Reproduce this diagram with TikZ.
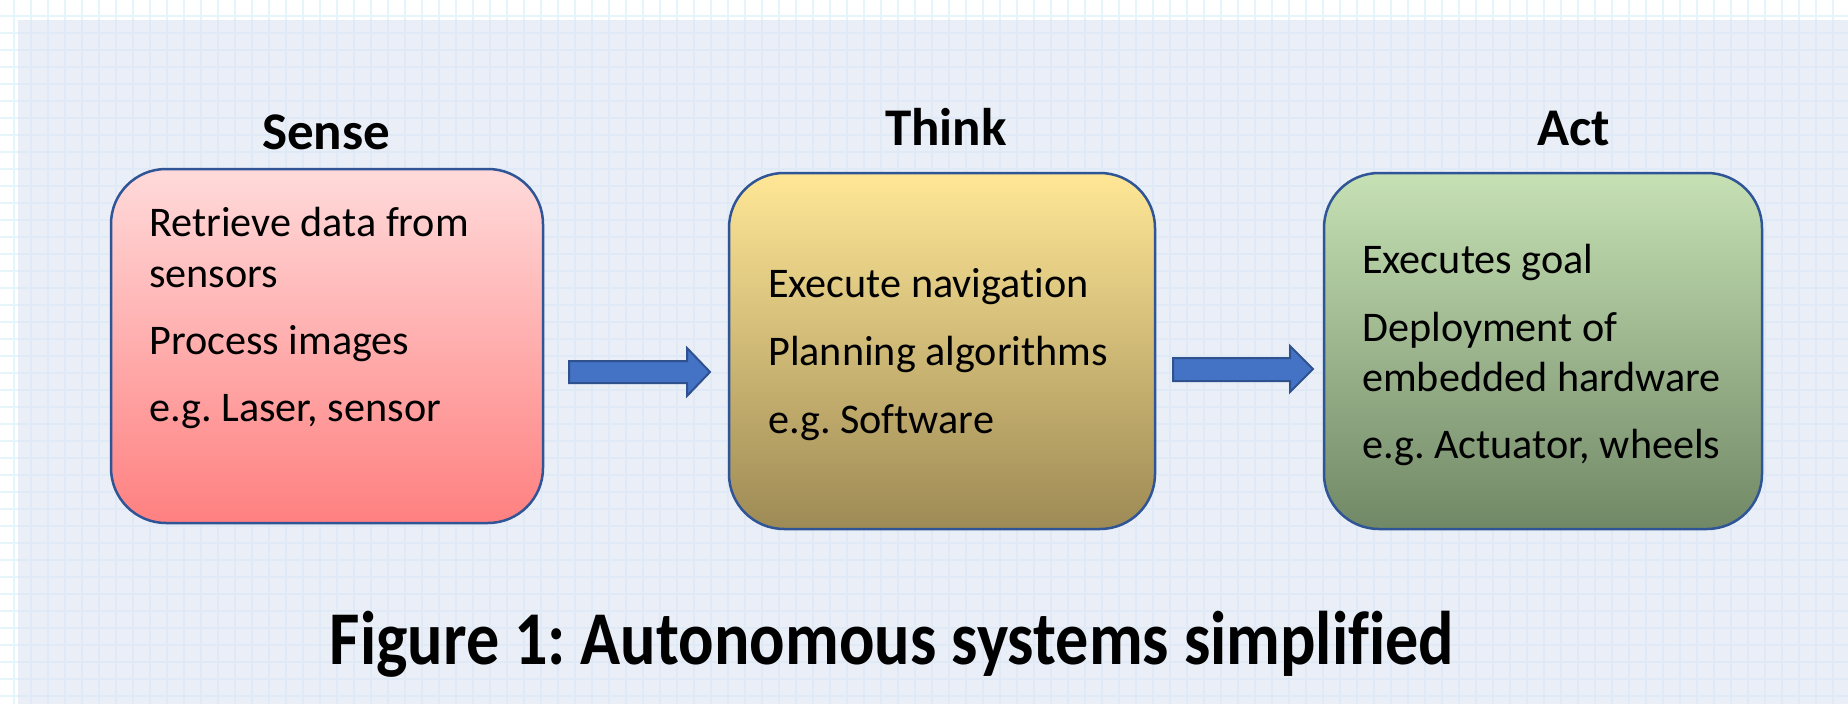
\documentclass[tikz,border=0pt]{standalone}
\usepackage{fontspec}
\usepackage{graphicx}
\setmainfont[Ligatures={NoCommon,NoContextual}]{Carlito}
\frenchspacing
\definecolor{outergrid}{HTML}{E4F6FC}
\definecolor{panelfill}{HTML}{E9EEF7}
\definecolor{panelgrid}{HTML}{E0E9F6}
\definecolor{boxborder}{HTML}{2F5597}
\definecolor{arrowfill}{HTML}{4472C4}
\definecolor{arrowborder}{HTML}{2F528F}
\definecolor{senseTop}{HTML}{FFDADA}
\definecolor{senseBot}{HTML}{FF8080}
\definecolor{thinkTop}{HTML}{FFE796}
\definecolor{thinkBot}{HTML}{9E8A55}
\definecolor{actTop}{HTML}{C6E1B4}
\definecolor{actBot}{HTML}{718866}
\tikzset{
  stagebox/.style={draw=boxborder, line width=2.5pt, rounded corners=55pt, inner sep=0pt},
  bodytext/.style={anchor=base west, inner sep=0pt, font=\fontsize{42.2}{50}\selectfont},
  titletext/.style={anchor=base, inner sep=0pt, font=\bfseries\fontsize{53}{64}\selectfont},
  blockarrow/.style={fill=arrowfill, draw=arrowborder, line width=2pt, line join=miter},
}
\begin{document}
\begin{tikzpicture}[x=1pt,y=-1pt]
\useasboundingbox (0,0) rectangle (1848,704);
\fill[white] (0,0) rectangle (1848,704);
\foreach \i in {0,...,108} \draw[outergrid, line width=2pt] (14+17*\i,0) -- (14+17*\i,704);
\foreach \j in {0,...,41} \draw[outergrid, line width=2pt] (0,16+17*\j) -- (1848,16+17*\j);
\fill[panelfill] (18,20) rectangle (1848,704);
\begin{scope}
\clip (18,20) rectangle (1848,704);
\foreach \i in {0,...,108} \draw[panelgrid, line width=2pt] (14+17*\i,0) -- (14+17*\i,704);
\foreach \j in {0,...,41} \draw[panelgrid, line width=2pt] (0,16+17*\j) -- (1848,16+17*\j);
\end{scope}

% boxes
\node[stagebox, top color=senseTop, bottom color=senseBot, minimum width=432pt, minimum height=354pt] (sense) at (327,346) {};
\node[stagebox, top color=thinkTop, bottom color=thinkBot, minimum width=426pt, minimum height=356pt] (think) at (942,351) {};
\node[stagebox, top color=actTop, bottom color=actBot, minimum width=438pt, minimum height=356pt] (act) at (1543,351) {};

% titles
\node[titletext] (senseT) at (326,149) {Sense};
\node[titletext] (thinkT) at (946,145) {Think};
\node[titletext] (actT) at (1574,145) {Act};

% body text
\node[bodytext] (s1) at (149,236) {Retrieve data from};
\node[bodytext] (s2) at (149,287) {sensors};
\node[bodytext] (s3) at (149,354) {Process images};
\node[bodytext] (s4) at (149,421) {e.g. Laser, sensor};

\node[bodytext] (t1) at (768,297) {Execute navigation};
\node[bodytext] (t2) at (768,365) {Planning algorithms};
\node[bodytext] (t3) at (768,433) {e.g. Software};

\node[bodytext] (a1) at (1362,273) {Executes goal};
\node[bodytext] (a2) at (1362,341) {Deployment of};
\node[bodytext] (a3) at (1362,391) {embedded hardware};
\node[bodytext] (a4) at (1362,458) {e.g. Actuator, wheels};

% block arrows
\draw[blockarrow] (569,361) -- (687,361) -- (687,348) -- (710,372) -- (687,396) -- (687,383) -- (569,383) -- cycle;
\draw[blockarrow] (1173,358) -- (1290,358) -- (1290,346) -- (1313,369) -- (1290,392) -- (1290,381) -- (1173,381) -- cycle;

% caption
\node[anchor=base, inner sep=0pt, font=\bfseries\fontsize{76}{90}\selectfont] (caption) at (892,664) {\scalebox{0.87}[1]{Figure 1: Autonomous systems simplified}};
\end{tikzpicture}
\end{document}
